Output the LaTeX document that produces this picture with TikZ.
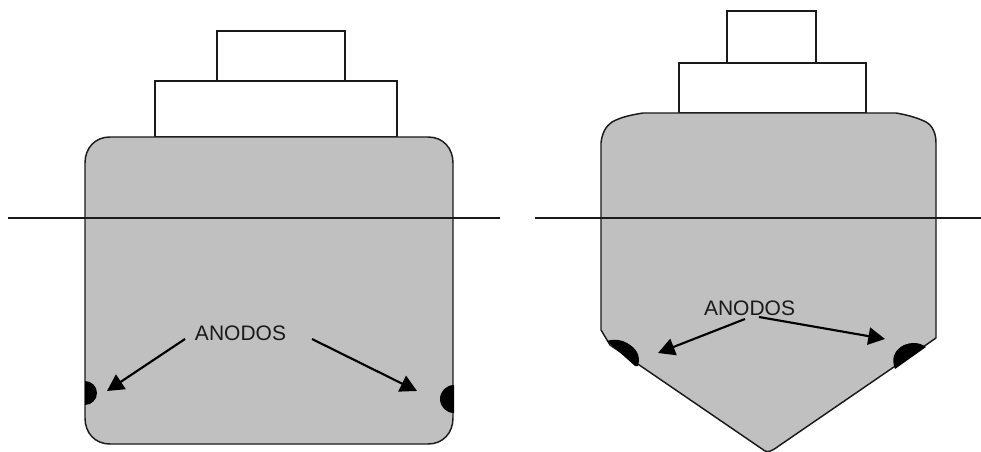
\documentclass[tikz,border=0pt]{standalone}
\usepackage{fontspec}
\setmainfont{Liberation Sans}
\usetikzlibrary{arrows.meta}
\definecolor{hullgray}{HTML}{C0C0C0}
\definecolor{inkline}{HTML}{1A1A1A}
\tikzset{
  hull/.style={draw=inkline,line width=1.1pt,fill=hullgray,line join=round},
  deck/.style={draw=inkline,line width=1.2pt,fill=white,line join=miter},
  waterline/.style={draw=inkline,line width=1pt},
  anode/.style={fill=black,draw=none},
  pointer/.style={draw=black,line width=1.6pt,-{Triangle[length=12.5pt,width=13pt]}},
  caption/.style={font=\fontsize{15.75pt}{18pt}\selectfont,inner sep=0pt,text=inkline}
}
\begin{document}
\begin{tikzpicture}[x=0.75pt,y=-0.75pt]
\useasboundingbox (0,0) rectangle (981,452);

% Flat-bottomed vessel
\draw[deck] (217,31) rectangle (345,81);
\draw[deck] (155,81) rectangle (397,137);
\draw[hull] (110,137) -- (428,137) .. controls (443,137) and (453,148) .. (453,163)
  -- (453,418) .. controls (453,433) and (443,444) .. (428,444)
  -- (110,444) .. controls (95,444) and (85,433) .. (85,418)
  -- (85,163) .. controls (85,148) and (95,137) .. (110,137) -- cycle;
\fill[anode] (85,381) arc[start angle=-90,end angle=90,radius=12] -- cycle;
\fill[anode] (454,385) arc[start angle=-90,end angle=-270,radius=14] -- cycle;
\draw[waterline] (8,218) -- (500,218);

% V-bottomed vessel
\draw[deck] (727,11) rectangle (816,63);
\draw[deck] (679,63) rectangle (866,113);
\draw[hull] (643,113) -- (896,113)
  .. controls (908,115) and (918,118) .. (926,122)
  .. controls (933,126) and (936,134) .. (936,143)
  -- (936,338) -- (923,347) -- (778,446.5)
  .. controls (772,451) and (768,452.5) .. (765,451)
  -- (610,345) -- (601,330)
  -- (601,143) .. controls (602,133) and (606,126) .. (612,122)
  .. controls (621,117) and (631,115) .. (643,113) -- cycle;
\fill[anode] (607,341) .. controls (612,339) and (620,339) .. (627,343)
  .. controls (636,348) and (641,355) .. (638,366) -- (635,366) -- cycle;
\fill[anode] (895,369) .. controls (891,359) and (894,350) .. (904,345)
  .. controls (911,342) and (919,342) .. (926,347) -- cycle;
\draw[waterline] (535,218) -- (981,218);

% Labels and their arrows
\node[caption] (labelA) at (240.5,333) {ANODOS};
\node[caption] (labelB) at (749.5,308) {ANODOS};
\coordinate (startAL) at (185,339);
\coordinate (tipAL) at (107,391);
\coordinate (startAR) at (312,339);
\coordinate (tipAR) at (417,391);
\coordinate (startBL) at (745,319);
\coordinate (tipBL) at (658,353);
\coordinate (startBR) at (759,317);
\coordinate (tipBR) at (885,339);
\draw[pointer] (startAL) -- (tipAL);
\draw[pointer] (startAR) -- (tipAR);
\draw[pointer] (startBL) -- (tipBL);
\draw[pointer] (startBR) -- (tipBR);
\end{tikzpicture}
\end{document}
